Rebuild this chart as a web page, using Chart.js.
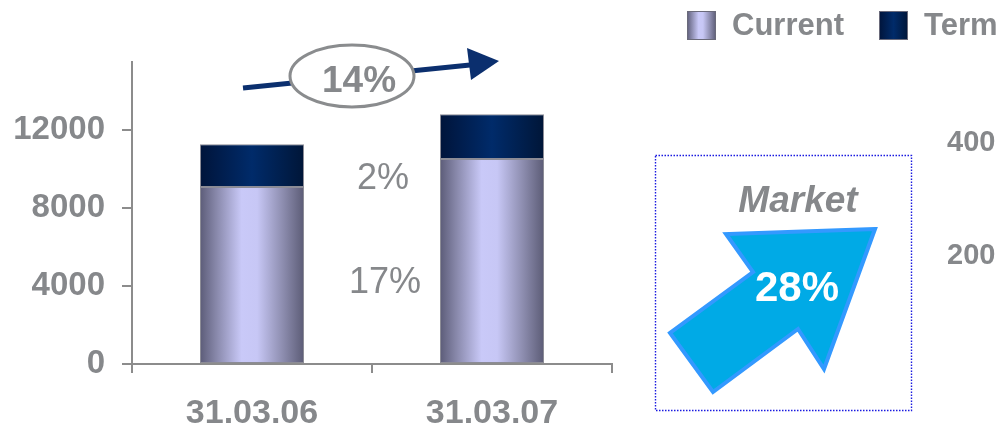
<!DOCTYPE html>
<html>
<head>
<meta charset="utf-8">
<script src="https://cdn.jsdelivr.net/npm/chart.js@4"></script>
<style>
  body { margin: 0; background: #fff; overflow: hidden; }
  #wrap { width: 1004px; height: 427px; position: relative; }
</style>
</head>
<body>
<div id="wrap"><canvas id="depositChart" width="1004" height="427"></canvas></div>
<script>
const categories = ["31.03.06", "31.03.07"];
const currentValues = [9080, 10520];
const termValues = [2200, 2300];
const seriesNames = ["Current", "Term"];
const yTicks = [0, 4000, 8000, 12000];
const totalGrowth = "14%";
const termGrowth = "2%";
const currentGrowth = "17%";
const marketGrowth = "28%";
const sideTicks = ["400", "200"];

const grey = "#86888b";
const fontFamily = "'Liberation Sans', Arial, sans-serif";
const barPct = 104 / 240;

function currentGradient(g, x0, x1) {
    const gr = g.createLinearGradient(x0, 0, x1, 0);
    gr.addColorStop(0, "#5c5c78");
    gr.addColorStop(0.15, "#8686a8");
    gr.addColorStop(0.4, "#c9c9f8");
    gr.addColorStop(0.55, "#c7c7f5");
    gr.addColorStop(0.8, "#8c8cae");
    gr.addColorStop(1, "#5c5c76");
    return gr;
}
function termGradient(g, x0, x1) {
    const gr = g.createLinearGradient(x0, 0, x1, 0);
    gr.addColorStop(0, "#00143a");
    gr.addColorStop(0.5, "#002b6a");
    gr.addColorStop(1, "#001638");
    return gr;
}
function barFill(makeGrad) {
    return ctx => {
        const chart = ctx.chart;
        if (!chart.chartArea || ctx.dataIndex === undefined) return "#9999cc";
        const xs = chart.scales.x;
        const cx = xs.getPixelForValue(ctx.dataIndex);
        const w = (xs.width / categories.length) * barPct;
        return makeGrad(chart.ctx, cx - w / 2, cx + w / 2);
    };
}

const decorations = {
    id: "decorations",
    afterDraw(chart) {
        const g = chart.ctx;
        const xs = chart.scales.x;
        g.save();

        // legend (top right, clipped by the page edge)
        g.font = "bold 31px " + fontFamily;
        g.textBaseline = "middle";
        g.textAlign = "left";
        const legendItems = [
            { x: 687, grad: currentGradient, text: seriesNames[0] },
            { x: 879, grad: termGradient, text: seriesNames[1] }
        ];
        legendItems.forEach(it => {
            g.fillStyle = it.grad(g, it.x, it.x + 29);
            g.fillRect(it.x, 11, 29, 29);
            g.strokeStyle = "#6a6a7a";
            g.lineWidth = 1;
            g.strokeRect(it.x + 0.5, 11.5, 28, 28);
            g.fillStyle = grey;
            g.fillText(it.text, it.x + 45, 26);
        });

        // total growth arrow
        g.strokeStyle = "#0b2f6e";
        g.fillStyle = "#0b2f6e";
        g.lineWidth = 5;
        g.beginPath();
        g.moveTo(243, 88);
        g.lineTo(470, 65);
        g.stroke();
        g.beginPath();
        g.moveTo(499, 61);
        g.lineTo(467, 48);
        g.lineTo(471, 80);
        g.closePath();
        g.fill();

        g.beginPath();
        g.ellipse(352, 76, 62, 31, 0, 0, Math.PI * 2);
        g.fillStyle = "#fff";
        g.fill();
        g.strokeStyle = "#8a8c8e";
        g.lineWidth = 3;
        g.stroke();
        g.fillStyle = grey;
        g.font = "bold 37px " + fontFamily;
        g.textAlign = "center";
        g.fillText(totalGrowth, 359, 82);

        // segment growth labels
        const midX = (xs.getPixelForValue(0) + xs.getPixelForValue(1)) / 2 + 11;
        g.font = "36px " + fontFamily;
        g.fillText(termGrowth, midX, 179);
        g.fillText(currentGrowth, midX + 2, 283);

        // market box
        g.strokeStyle = "#1a1ae0";
        g.lineWidth = 1.4;
        g.setLineDash([1.5, 1.5]);
        g.strokeRect(655.5, 155.5, 256, 255);
        g.setLineDash([]);

        g.fillStyle = grey;
        g.font = "italic bold 37px " + fontFamily;
        g.fillText("Market", 798, 202);

        g.beginPath();
        g.moveTo(875, 229);
        g.lineTo(726, 234);
        g.lineTo(753, 272);
        g.lineTo(670, 333);
        g.lineTo(713, 392);
        g.lineTo(798, 329);
        g.lineTo(824, 369);
        g.closePath();
        g.fillStyle = "#00aae6";
        g.fill();
        g.strokeStyle = "#3399ff";
        g.lineWidth = 4;
        g.lineJoin = "miter";
        g.stroke();

        g.fillStyle = "#ffffff";
        g.font = "bold 42px " + fontFamily;
        g.fillText(marketGrowth, 797, 289);

        // neighbouring chart's axis labels, cut by the page edge
        g.fillStyle = grey;
        g.font = "bold 29px " + fontFamily;
        g.textAlign = "left";
        g.fillText(sideTicks[0], 947, 143);
        g.fillText(sideTicks[1], 947, 256);

        g.restore();
    }
};

new Chart(document.getElementById("depositChart"), {
    type: "bar",
    data: {
        labels: categories,
        datasets: [
            {
                label: seriesNames[0],
                data: currentValues,
                backgroundColor: barFill(currentGradient),
                borderColor: "#8c8c96",
                borderWidth: 1,
                borderSkipped: false
            },
            {
                label: seriesNames[1],
                data: termValues,
                backgroundColor: barFill(termGradient),
                borderColor: "#8c8c96",
                borderWidth: 1,
                borderSkipped: false
            }
        ]
    },
    options: {
        responsive: false,
        animation: false,
        devicePixelRatio: 1,
        layout: { padding: { top: 62, right: 392, left: 0, bottom: 0 } },
        datasets: { bar: { barPercentage: 1, categoryPercentage: barPct } },
        plugins: {
            legend: { display: false },
            tooltip: { enabled: false }
        },
        scales: {
            x: {
                stacked: true,
                offset: true,
                afterFit: s => { s.height = 63; },
                border: { color: "#8c8c8c", width: 2 },
                grid: {
                    offset: true,
                    drawOnChartArea: false,
                    tickLength: 9,
                    color: "#8c8c8c",
                    lineWidth: 2
                },
                ticks: {
                    color: grey,
                    padding: 20,
                    font: { family: fontFamily, size: 34, weight: "bold" }
                }
            },
            y: {
                stacked: true,
                min: 0,
                max: 15500,
                afterFit: s => { s.width = 132; },
                afterBuildTicks: s => {
                    s.ticks = yTicks.map(v => ({ value: v }));
                },
                border: { color: "#8c8c8c", width: 2 },
                grid: {
                    drawOnChartArea: false,
                    tickLength: 10,
                    color: "#8c8c8c",
                    lineWidth: 2
                },
                ticks: {
                    color: grey,
                    padding: 17,
                    callback: v => String(v),
                    font: { family: fontFamily, size: 33, weight: "bold" }
                }
            }
        }
    },
    plugins: [decorations]
});
</script>
</body>
</html>
